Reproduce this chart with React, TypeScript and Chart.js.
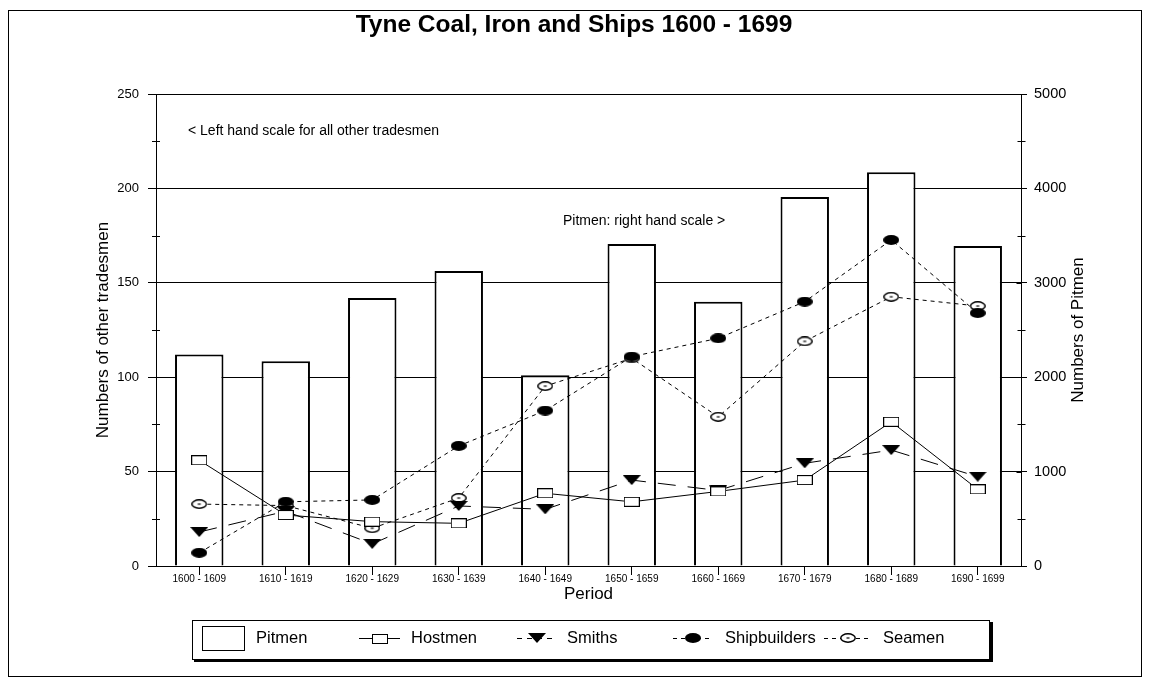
import React, { useEffect, useRef } from "react";
import { Chart, registerables } from "chart.js";

Chart.register(...registerables);

const FONT = '"Liberation Sans", Arial, Helvetica, sans-serif';

const periods = [
  "1600 - 1609",
  "1610 - 1619",
  "1620 - 1629",
  "1630 - 1639",
  "1640 - 1649",
  "1650 - 1659",
  "1660 - 1669",
  "1670 - 1679",
  "1680 - 1689",
  "1690 - 1699",
];
const pitmen = [2240, 2170, 2840, 3125, 2020, 3410, 2800, 3910, 4170, 3390];
const hostmen = [56, 27, 23.5, 22.6, 38.5, 34, 39.5, 45.5, 76.4, 40.6];
const smiths = [18, 29, 11.7, 31.8, 30, 45.5, 40, 54.4, 61.4, 47.3];
const shipbuilders = [7, 34, 35, 63.6, 82.3, 110.9, 120.6, 140, 172.7, 134];
const seamen = [32.8, 32, 20, 36, 95.3, 110, 79, 119, 142.6, 137.7];

const leftMinorTicks = [25, 75, 125, 175, 225];
const rightMajorTicks = [0, 1000, 2000, 3000, 4000, 5000];
const rightMinorTicks = [500, 1500, 2500, 3500, 4500];

const titleText = "Tyne Coal, Iron and Ships 1600 - 1699";
const leftTitle = "Numbers of other tradesmen";
const rightTitle = "Numbers of Pitmen";
const xTitle = "Period";
const noteLeft = "< Left hand scale for all other tradesmen";
const noteRight = "Pitmen: right hand scale >";
const legendLabels = ["Pitmen", "Hostmen", "Smiths", "Shipbuilders", "Seamen"];

type Kind = "square" | "triangle" | "dot" | "ring";

function makeMarker(kind: Kind): HTMLCanvasElement {
  const c = document.createElement("canvas");
  const g = c.getContext("2d") as CanvasRenderingContext2D;
  if (kind === "square") {
    c.width = 16;
    c.height = 10;
    g.fillStyle = "#fff";
    g.fillRect(0.5, 0.5, 15, 9);
    g.strokeStyle = "#000";
    g.lineWidth = 1;
    g.strokeRect(0.5, 0.5, 15, 9);
  } else if (kind === "triangle") {
    c.width = 18;
    c.height = 10;
    g.fillStyle = "#000";
    g.beginPath();
    g.moveTo(0, 0);
    g.lineTo(18, 0);
    g.lineTo(9, 10);
    g.closePath();
    g.fill();
  } else if (kind === "dot") {
    c.width = 16;
    c.height = 10;
    g.fillStyle = "#000";
    g.beginPath();
    g.ellipse(8, 5, 8, 5, 0, 0, Math.PI * 2);
    g.fill();
  } else {
    c.width = 16;
    c.height = 10;
    g.fillStyle = "#fff";
    g.strokeStyle = "#000";
    g.lineWidth = 1.4;
    g.beginPath();
    g.ellipse(8, 5, 7.2, 4.2, 0, 0, Math.PI * 2);
    g.fill();
    g.stroke();
    g.lineWidth = 1.2;
    g.beginPath();
    g.moveTo(6.5, 5);
    g.lineTo(9.5, 5);
    g.stroke();
  }
  return c;
}

function line(ctx: CanvasRenderingContext2D, x1: number, y1: number, x2: number, y2: number) {
  ctx.beginPath();
  ctx.moveTo(x1, y1);
  ctx.lineTo(x2, y2);
  ctx.stroke();
}

export default function App() {
  const ref = useRef<HTMLCanvasElement | null>(null);

  useEffect(() => {
    if (!ref.current) return;
    const mSquare = makeMarker("square");
    const mTri = makeMarker("triangle");
    const mDot = makeMarker("dot");
    const mRing = makeMarker("ring");

    const decor = {
      id: "decor",
      afterDraw(chart: any) {
        const ctx: CanvasRenderingContext2D = chart.ctx;
        const area = chart.chartArea;
        const ya = chart.scales.y;
        const yr = chart.scales.y1;
        ctx.save();
        ctx.strokeStyle = "#000";
        ctx.fillStyle = "#000";
        ctx.lineWidth = 1;
        ctx.setLineDash([]);

        // minor ticks left
        for (const v of leftMinorTicks) {
          const y = Math.round(ya.getPixelForValue(v)) + 0.5;
          line(ctx, area.left - 4, y, area.left + 4, y);
        }
        // right axis inner ticks
        const rx = Math.round(area.right) + 0.5;
        for (const v of rightMajorTicks) {
          const y = Math.round(yr.getPixelForValue(v)) + 0.5;
          line(ctx, rx - 5, y, rx, y);
        }
        for (const v of rightMinorTicks) {
          const y = Math.round(yr.getPixelForValue(v)) + 0.5;
          line(ctx, rx - 4, y, rx + 4, y);
        }

        // title
        ctx.textAlign = "center";
        ctx.textBaseline = "middle";
        ctx.font = `bold 24.5px ${FONT}`;
        ctx.fillText(titleText, 574, 25);

        // notes
        ctx.textAlign = "left";
        ctx.font = `14px ${FONT}`;
        ctx.fillText(noteLeft, 188, 131);
        ctx.fillText(noteRight, 563, 221);

        // x title
        ctx.textAlign = "center";
        ctx.font = `17px ${FONT}`;
        ctx.fillText(xTitle, (area.left + area.right) / 2, 594);

        // left title
        ctx.save();
        ctx.translate(103, (area.top + area.bottom) / 2);
        ctx.rotate(-Math.PI / 2);
        ctx.fillText(leftTitle, 0, 0);
        ctx.restore();

        // right title
        ctx.save();
        ctx.translate(1078, (area.top + area.bottom) / 2);
        ctx.rotate(-Math.PI / 2);
        ctx.fillText(rightTitle, 0, 0);
        ctx.restore();

        // legend box
        ctx.strokeRect(192.5, 620.5, 797, 39);
        ctx.fillRect(990, 622, 3, 40);
        ctx.fillRect(194, 660, 799, 2);

        const ly = 638.5;
        // pitmen swatch
        ctx.strokeRect(202.5, 626.5, 42, 24);
        ctx.textAlign = "left";
        ctx.font = `16.5px ${FONT}`;
        ctx.fillText(legendLabels[0], 256, ly);

        // hostmen
        ctx.setLineDash([]);
        line(ctx, 359, ly, 400, ly);
        ctx.drawImage(mSquare, 372, 634);
        ctx.fillText(legendLabels[1], 411, ly);

        // smiths
        ctx.setLineDash([5, 5]);
        line(ctx, 517, ly, 557, ly);
        ctx.setLineDash([]);
        ctx.drawImage(mTri, 528, 633);
        ctx.fillText(legendLabels[2], 567, ly);

        // shipbuilders
        ctx.setLineDash([4, 4]);
        line(ctx, 673, ly, 713, ly);
        ctx.setLineDash([]);
        ctx.drawImage(mDot, 685, 633);
        ctx.fillText(legendLabels[3], 725, ly);

        // seamen
        ctx.setLineDash([4, 4]);
        line(ctx, 824, ly, 872, ly);
        ctx.setLineDash([]);
        ctx.drawImage(mRing, 840, 633);
        ctx.fillText(legendLabels[4], 883, ly);

        // outer frame
        ctx.strokeRect(8.5, 10.5, 1133, 666);
        ctx.restore();
      },
    };

    const chart = new Chart(ref.current, {
      type: "bar",
      data: {
        labels: periods,
        datasets: [
          {
            type: "line",
            label: "Hostmen",
            data: hostmen,
            yAxisID: "y",
            borderColor: "#000",
            borderWidth: 1,
            tension: 0,
            fill: false,
            pointStyle: mSquare,
            order: 1,
          } as any,
          {
            type: "line",
            label: "Smiths",
            data: smiths,
            yAxisID: "y",
            borderColor: "#000",
            borderWidth: 1,
            borderDash: [18, 12],
            tension: 0,
            fill: false,
            pointStyle: mTri,
            order: 2,
          } as any,
          {
            type: "line",
            label: "Shipbuilders",
            data: shipbuilders,
            yAxisID: "y",
            borderColor: "#000",
            borderWidth: 1,
            borderDash: [4, 4],
            tension: 0,
            fill: false,
            pointStyle: mDot,
            order: 3,
          } as any,
          {
            type: "line",
            label: "Seamen",
            data: seamen,
            yAxisID: "y",
            borderColor: "#000",
            borderWidth: 1,
            borderDash: [4, 4],
            tension: 0,
            fill: false,
            pointStyle: mRing,
            order: 4,
          } as any,
          {
            type: "bar",
            label: "Pitmen",
            data: pitmen,
            yAxisID: "y1",
            backgroundColor: "#fff",
            borderColor: "#000",
            borderWidth: 2,
            barPercentage: 0.56,
            categoryPercentage: 1,
            order: 10,
          } as any,
        ],
      },
      options: {
        responsive: false,
        animation: false,
        layout: { padding: { left: 0, right: 0, top: 94, bottom: 0 } },
        plugins: {
          legend: { display: false },
          title: { display: false },
          tooltip: { enabled: false },
        },
        scales: {
          x: {
            type: "category",
            offset: true,
            grid: {
              display: true,
              drawOnChartArea: false,
              offset: false,
              tickLength: 9,
              tickColor: "#000",
              color: "#000",
            },
            border: { display: true, color: "#000" },
            ticks: {
              color: "#000",
              font: { family: FONT, size: 10 },
              padding: -2,
              maxRotation: 0,
              autoSkip: false,
            },
            afterFit: (s: any) => {
              s.height = 116;
            },
          },
          y: {
            position: "left",
            min: 0,
            max: 250,
            ticks: {
              stepSize: 50,
              color: "#000",
              font: { family: FONT, size: 13 },
              padding: 9,
            },
            grid: { color: "#000", tickColor: "#000", tickLength: 8, lineWidth: 1 },
            border: { display: true, color: "#000" },
            afterFit: (s: any) => {
              s.width = 156;
            },
          },
          y1: {
            position: "right",
            min: 0,
            max: 5000,
            ticks: {
              stepSize: 1000,
              color: "#000",
              font: { family: FONT, size: 14.5 },
              padding: 7,
              callback: (v: any) => String(v),
            },
            grid: { drawOnChartArea: false, tickColor: "#000", tickLength: 6, color: "#000" },
            border: { display: true, color: "#000" },
            afterFit: (s: any) => {
              s.width = 128;
            },
          },
        },
      } as any,
      plugins: [decor],
    });

    return () => {
      chart.destroy();
    };
  }, []);

  return (
    <div style={{ position: "fixed", left: 0, top: 0, width: 1149, height: 682, background: "#fff" }}>
      <canvas ref={ref} width={1149} height={682} style={{ display: "block" }} />
    </div>
  );
}
